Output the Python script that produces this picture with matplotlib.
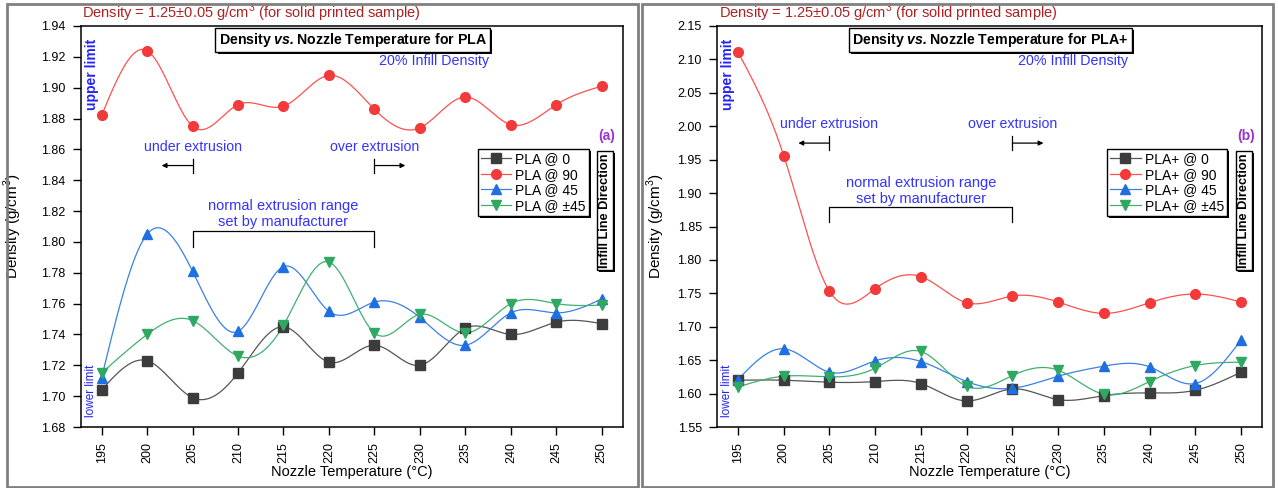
import numpy as np
import matplotlib.pyplot as plt
import matplotlib.transforms as mtransforms
from matplotlib import patheffects
from matplotlib.patches import Rectangle

plt.rcParams['font.family'] = ['Liberation Sans', 'DejaVu Sans']
plt.rcParams['mathtext.fontset'] = 'custom'
plt.rcParams['mathtext.rm'] = 'Liberation Sans'
plt.rcParams['mathtext.bfit'] = 'Liberation Sans:italic:bold'

temps = [195, 200, 205, 210, 215, 220, 225, 230, 235, 240, 245, 250]

# PLA, 20% infill
pla_0 = [1.704, 1.723, 1.699, 1.715, 1.745, 1.722, 1.733, 1.720, 1.744, 1.740, 1.748, 1.747]
pla_90 = [1.882, 1.924, 1.875, 1.889, 1.888, 1.908, 1.886, 1.874, 1.894, 1.876, 1.889, 1.901]
pla_45 = [1.712, 1.805, 1.781, 1.742, 1.784, 1.755, 1.761, 1.751, 1.733, 1.754, 1.754, 1.763]
pla_pm45 = [1.715, 1.740, 1.749, 1.726, 1.746, 1.787, 1.741, 1.753, 1.741, 1.760, 1.760, 1.759]

# PLA+, 20% infill
plap_0 = [1.620, 1.620, 1.617, 1.618, 1.615, 1.589, 1.607, 1.591, 1.597, 1.601, 1.605, 1.632]
plap_90 = [2.111, 1.956, 1.753, 1.757, 1.775, 1.736, 1.746, 1.737, 1.720, 1.736, 1.749, 1.737]
plap_45 = [1.621, 1.667, 1.632, 1.649, 1.648, 1.618, 1.608, 1.626, 1.641, 1.640, 1.615, 1.680]
plap_pm45 = [1.610, 1.626, 1.625, 1.638, 1.663, 1.611, 1.627, 1.635, 1.599, 1.618, 1.642, 1.647]

directions = ['0', '90', '45', '\u00b145']
colors = ['#3c3c3c', '#f23a3a', '#1f6fe0', '#2fa862']
linecolors = ['#555555', '#ff5050', '#3a80e8', '#40b070']
markers = ['s', 'o', '^', 'v']

W, H = 1278, 488
BLUE = '#3333ff'


def spline(x, y, n=400):
    # natural cubic spline through the points
    x = np.asarray(x, float)
    y = np.asarray(y, float)
    h = np.diff(x)
    m = len(x)
    A = np.zeros((m, m))
    b = np.zeros(m)
    A[0, 0] = A[-1, -1] = 1
    for i in range(1, m - 1):
        A[i, i - 1] = h[i - 1]
        A[i, i] = 2 * (h[i - 1] + h[i])
        A[i, i + 1] = h[i]
        b[i] = 6 * ((y[i + 1] - y[i]) / h[i] - (y[i] - y[i - 1]) / h[i - 1])
    M = np.linalg.solve(A, b)
    xs = np.linspace(x[0], x[-1], n)
    k = np.clip(np.searchsorted(x, xs) - 1, 0, m - 2)
    t = xs - x[k]
    hk = h[k]
    ys = (M[k] * (x[k + 1] - xs) ** 3 / (6 * hk) + M[k + 1] * t ** 3 / (6 * hk)
          + (y[k] / hk - M[k] * hk / 6) * (x[k + 1] - xs)
          + (y[k + 1] / hk - M[k + 1] * hk / 6) * t)
    return xs, ys


def shadow(artist):
    artist.set_path_effects([patheffects.withSimplePatchShadow(
        offset=(1.5, -1.5), shadow_rgbFace='black', alpha=1.0)])


def panel(ax, series, name, ylim, ystep, letter, lab):
    trans = mtransforms.blended_transform_factory(ax.transData, ax.transAxes)

    for vals, d, c, lc, mk in zip(series, directions, colors, linecolors, markers):
        xs, ys = spline(temps, vals)
        ax.plot(xs, ys, color=lc, lw=0.9, zorder=2)
        ax.plot(temps, vals, ls='none', marker=mk, ms=7, color=c, zorder=3)
        ax.plot([], [], color=lc, lw=0.9, marker=mk, ms=7, mfc=c, mec=c,
                label=name + ' @ ' + d)

    ax.set_xlim(192.7, 252.3)
    ax.set_ylim(*ylim)
    ax.set_xticks(temps)
    ax.set_xticklabels([str(t) for t in temps], rotation=90)
    ax.set_yticks(np.arange(ylim[0], ylim[1] + ystep / 2, ystep))
    ax.yaxis.set_major_formatter(plt.FormatStrFormatter('%.2f'))
    ax.tick_params(direction='out', length=6, width=1, labelsize=9, pad=5)
    for s in ax.spines.values():
        s.set_linewidth(1.1)

    ax.set_xlabel('Nozzle Temperature (\u00b0C)', fontsize=10.5)
    ax.xaxis.set_label_coords(0.5, -0.095)
    ax.set_ylabel('Density (g/cm$^3$)', fontsize=11)
    ax.yaxis.set_label_coords(lab, 0.5)

    ax.text(0.003, 1.004, 'Density = 1.25\u00b10.05 g/cm$^3$ (for solid printed sample)',
            transform=ax.transAxes, color='#b02020', fontsize=10.5, va='bottom')

    t = ax.text(222.6, 0.965, r'Density $\mathbfit{vs.}$Nozzle Temperature for ' + name,
                transform=trans, ha='center', va='center', fontsize=10.2, fontweight='bold',
                bbox=dict(boxstyle='square,pad=0.22', fc='white', ec='black', lw=1))
    shadow(t.get_bbox_patch())

    ax.text(231.6, 0.912, '20% Infill Density', transform=trans, ha='center',
            va='center', color=BLUE, fontsize=10.3)
    ax.text(0.008, 0.967, 'upper limit', transform=ax.transAxes, rotation=90,
            ha='left', va='top', color='#2222ff', fontsize=10, fontweight='bold')
    ax.text(0.008, 0.025, 'lower limit', transform=ax.transAxes, rotation=90,
            ha='left', va='bottom', color='#2222ff', fontsize=8.5)
    ax.text(0.971, letter[1], letter[0], transform=ax.transAxes, ha='center',
            va='center', color='#9933cc', fontsize=10, fontweight='bold')

    # extrusion limits and arrows
    ty, ay, tk0, tk1, ny, by, bd = lab_pos[name]
    ax.text(205, ty, 'under extrusion', transform=trans, ha='center', va='center',
            color=BLUE, fontsize=10.2)
    ax.text(225, ty, 'over extrusion', transform=trans, ha='center', va='center',
            color=BLUE, fontsize=10.2)
    ax.plot([205, 205], [tk0, tk1], color='black', lw=0.9, transform=trans)
    ax.plot([225, 225], [tk0, tk1], color='black', lw=0.9, transform=trans)
    ax.annotate('', xy=(201.6, ay), xytext=(205, ay), xycoords=trans, textcoords=trans,
                arrowprops=dict(arrowstyle='-|>', color='black', lw=0.9, mutation_scale=7,
                                shrinkA=0, shrinkB=0))
    ax.annotate('', xy=(228.4, ay), xytext=(225, ay), xycoords=trans, textcoords=trans,
                arrowprops=dict(arrowstyle='-|>', color='black', lw=0.9, mutation_scale=7,
                                shrinkA=0, shrinkB=0))
    ax.text(215, ny, 'normal extrusion range\nset by manufacturer', transform=trans,
            ha='center', va='center', color=BLUE, fontsize=10.5, linespacing=1.15)
    ax.plot([205, 205, 225, 225], [bd, by, by, bd], color='black', lw=0.9, transform=trans)

    leg = ax.legend(loc='upper left', bbox_to_anchor=(letter[2], 0.693), fontsize=10,
                    frameon=True, fancybox=False, edgecolor='black', framealpha=1,
                    handlelength=2.2, handletextpad=0.3, labelspacing=0.12,
                    borderpad=0.2, borderaxespad=0)
    leg.get_frame().set_linewidth(1)
    shadow(leg.get_frame())

    t = ax.text(0.967, 0.539, 'Infill Line Direction', transform=ax.transAxes,
                rotation=90, ha='center', va='center', fontsize=9.2, fontweight='bold',
                bbox=dict(boxstyle='square,pad=0.18', fc='white', ec='black', lw=1))
    shadow(t.get_bbox_patch())


lab_pos = {
    'PLA': (0.698, 0.652, 0.668, 0.633, 0.531, 0.489, 0.449),
    'PLA+': (0.756, 0.708, 0.726, 0.691, 0.589, 0.549, 0.511),
}

fig = plt.figure(figsize=(W / 100, H / 100), dpi=100)
ax1 = fig.add_axes([80.7 / W, 61 / H, 542 / W, 401 / H])
ax2 = fig.add_axes([717 / W, 61 / H, 545 / W, 401 / H])

panel(ax1, [pla_0, pla_90, pla_45, pla_pm45], 'PLA', (1.68, 1.94), 0.02,
      ('(a)', 0.726, 0.733), -0.104)
panel(ax2, [plap_0, plap_90, plap_45, plap_pm45], 'PLA+', (1.55, 2.15), 0.05,
      ('(b)', 0.726, 0.716), -0.091)

# grey frames round each panel
for x0, x1 in [(6.5, 638), (642, 1273)]:
    fig.patches.append(Rectangle((x0 / W, 1.5 / H), (x1 - x0) / W, 483 / H,
                                 transform=fig.transFigure, fill=False,
                                 ec='#808080', lw=2))

fig.savefig('out.png', dpi=100)
